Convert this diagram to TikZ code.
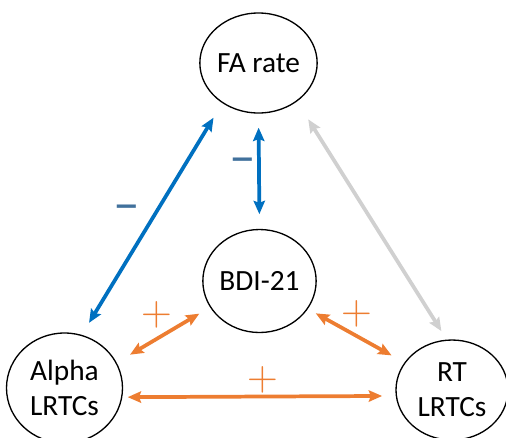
\documentclass[tikz,border=0pt]{standalone}
\usepackage{fontspec}
\setmainfont{Carlito}
\newfontfamily\signfont{Latin Modern Roman}
\usetikzlibrary{arrows.meta, shapes.geometric}
\definecolor{negblue}{HTML}{0070C0}
\definecolor{signblue}{HTML}{41719C}
\definecolor{posorange}{HTML}{ED7D31}
\definecolor{nsgray}{HTML}{D0D0D0}
\begin{document}
\begin{tikzpicture}[x=0.75pt,y=-0.75pt,>={Stealth[length=10pt,width=8.5pt,inset=1.5pt]}]
\tikzstyle{var}=[ellipse,draw=black,line width=1pt,inner sep=0pt,align=center,font=\fontsize{22}{26}\selectfont]
\tikzstyle{link}=[<->,line width=2.8pt]
\tikzstyle{minus}=[inner sep=0pt,text=signblue,font=\fontsize{40}{44}\selectfont]
\tikzstyle{plus}=[inner sep=0pt,text=posorange,font=\signfont\fontsize{32}{34}\selectfont]
\useasboundingbox (0,0) rectangle (506,437);
\node [var,minimum width=84.75pt,minimum height=75pt] (fa) at (258.5,63) {FA rate};
\node [var,minimum width=84.75pt,minimum height=77.25pt] (bdi) at (259.5,281) {BDI-21};
\node [var,minimum width=87pt,minimum height=82.5pt] (alpha) at (64.5,388) {Alpha\\LRTCs};
\node [var,minimum width=84pt,minimum height=75pt] (rt) at (452,390) {RT\\LRTCs};
% negative links
\draw [link,negblue,shorten <=10.5pt,shorten >=12.75pt] (alpha.72) -- (fa.228);
\draw [link,negblue,shorten <=10.5pt,shorten >=11pt] (fa.south) -- (bdi.north);
% no link
\draw [link,nsgray,shorten <=15.75pt,shorten >=7.5pt] (fa.315) -- (rt.96);
% positive links
\draw [link,posorange,shorten <=11.6pt,shorten >=9.3pt] (alpha.26) -- (bdi.208);
\draw [link,posorange,shorten <=6.75pt,shorten >=11pt] (bdi.330) -- (rt.150.5);
\draw [link,posorange,shorten <=4pt,shorten >=10.2pt] (alpha.351) -- (rt.186.6);
% signs
\node [minus] (m1) at (127,213) {–};
\node [minus] (m2) at (243,166) {–};
\node [plus] (p1) at (157,315) {+};
\node [plus] (p2) at (357,314) {+};
\node [plus] (p3) at (263,380) {+};
\end{tikzpicture}
\end{document}
